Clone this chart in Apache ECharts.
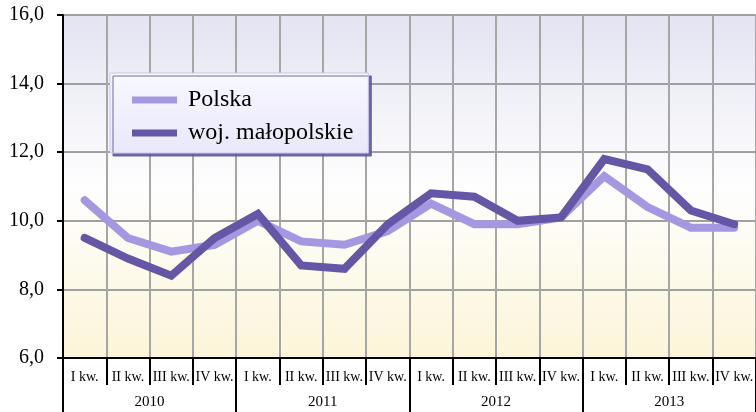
<!DOCTYPE html>
<html>
<head>
<meta charset="utf-8">
<script src="https://cdn.jsdelivr.net/npm/echarts@6/dist/echarts.min.js"></script>
<style>
html,body{margin:0;padding:0;background:#fff;}
#c{width:756px;height:412px;}
</style>
</head>
<body>
<div id="c"></div>
<script>
var quarters = ['I kw.','II kw.','III kw.','IV kw.','I kw.','II kw.','III kw.','IV kw.','I kw.','II kw.','III kw.','IV kw.','I kw.','II kw.','III kw.','IV kw.'];
var years = ['2010','2011','2012','2013'];
var polska = [10.6, 9.5, 9.1, 9.3, 10.0, 9.4, 9.3, 9.7, 10.5, 9.9, 9.9, 10.1, 11.3, 10.4, 9.8, 9.8];
var malopolskie = [9.5, 8.9, 8.4, 9.5, 10.2, 8.7, 8.6, 9.9, 10.8, 10.7, 10.0, 10.1, 11.8, 11.5, 10.3, 9.9];
var seriesNames = ['Polska', 'woj. małopolskie'];

var serif = '"Liberation Serif", "DejaVu Serif", serif';
var chart = echarts.init(document.getElementById('c'));
chart.setOption({
  animation: false,
  grid: {
    left: 63, top: 15, width: 698, height: 343,
    show: true,
    borderWidth: 0,
    backgroundColor: {
      type: 'linear', x: 0, y: 0, x2: 0, y2: 1,
      colorStops: [
        {offset: 0, color: '#e3e3f2'},
        {offset: 0.5, color: '#fefefe'},
        {offset: 1, color: '#fcf5d9'}
      ]
    }
  },
  legend: {
    orient: 'vertical',
    left: 110, top: 73,
    padding: [15, 15, 8, 22],
    itemGap: 9,
    itemWidth: 45,
    itemHeight: 7,
    icon: 'rect',
    backgroundColor: {
      type: 'linear', x: 0, y: 0, x2: 0, y2: 1,
      colorStops: [
        {offset: 0, color: '#f8f8ff'},
        {offset: 1, color: '#e9e8fa'}
      ]
    },
    borderColor: '#c9c6ee',
    borderWidth: 1,
    shadowColor: 'rgba(95,90,160,0.9)',
    shadowBlur: 0,
    shadowOffsetX: 3,
    shadowOffsetY: 3,
    textStyle: {
      fontFamily: serif, fontSize: 24, color: '#000',
      lineHeight: 24, padding: [0, 0, 0, 6]
    },
    data: seriesNames
  },
  xAxis: [
    {
      type: 'category',
      data: quarters,
      position: 'bottom',
      boundaryGap: true,
      axisLine: {lineStyle: {color: '#000', width: 2}},
      axisTick: {show: true, interval: 0, length: 27, lineStyle: {color: '#000', width: 2}},
      axisLabel: {interval: 0, margin: 12, fontFamily: serif, fontSize: 14, color: '#000'},
      splitLine: {show: true, interval: 0, lineStyle: {color: '#a6a6a6', width: 2}}
    },
    {
      type: 'category',
      data: years,
      position: 'bottom',
      offset: 0,
      boundaryGap: true,
      axisLine: {show: false},
      axisTick: {show: true, interval: 0, length: 56, lineStyle: {color: '#000', width: 2}},
      axisLabel: {interval: 0, margin: 37, fontFamily: serif, fontSize: 15, color: '#000'},
      splitLine: {show: false}
    }
  ],
  yAxis: {
    type: 'value',
    min: 6, max: 16, interval: 2,
    axisLine: {show: true, lineStyle: {color: '#000', width: 2}},
    axisTick: {show: true, length: 6, lineStyle: {color: '#000', width: 2}},
    axisLabel: {
      margin: 19, fontFamily: serif, fontSize: 20, color: '#000',
      formatter: function (v) { return v.toFixed(1).replace('.', ','); }
    },
    splitLine: {show: true, lineStyle: {color: '#a0a0a0', width: 2}}
  },
  series: [
    {
      name: seriesNames[0], type: 'line', data: polska,
      xAxisIndex: 0, showSymbol: false, symbol: 'none',
      lineStyle: {color: '#a598e0', width: 8, cap: 'round', join: 'miter'},
      itemStyle: {color: '#a598e0'},
      z: 3
    },
    {
      name: seriesNames[1], type: 'line', data: malopolskie,
      xAxisIndex: 0, showSymbol: false, symbol: 'none',
      lineStyle: {color: '#6656a6', width: 8, cap: 'round', join: 'miter'},
      itemStyle: {color: '#6656a6'},
      z: 4
    }
  ]
});
</script>
</body>
</html>
